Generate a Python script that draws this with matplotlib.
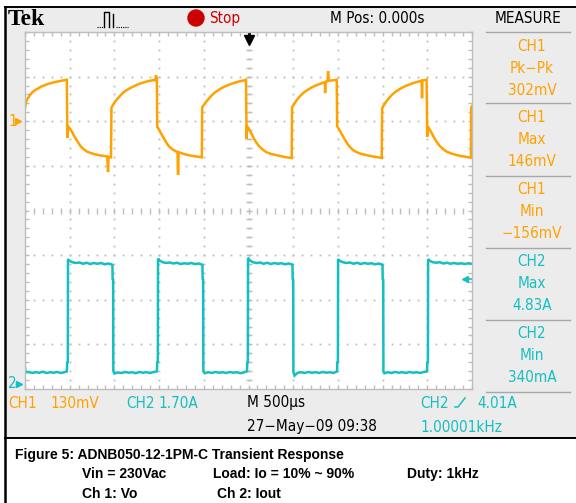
import matplotlib
matplotlib.use("Agg")
import matplotlib.pyplot as plt
from matplotlib import font_manager
from matplotlib.patches import Rectangle, Circle
import numpy as np

# ---------------- data ----------------
ch1_scale_mV = 130.0      # mV/div
ch2_scale_A = 1.70        # A/div
time_scale_us = 500.0     # us/div
ch1_ground_div = 2.0      # CH1 ground marker position (div above centre)
ch2_ground_div = -3.9     # CH2 ground marker position
ch2_trig_A = 4.01

# CH1: output voltage Vo (mV) vs time (us)
ch1_t = [0, 8, 20, 40, 60, 90, 120, 150, 180, 210, 250, 290, 330, 370, 410, 450, 468,
         472, 474, 476, 500, 530, 560, 590, 620, 650, 690, 730, 780, 830, 880, 920, 929, 934, 962,
         967, 985, 1010, 1040, 1070, 1100, 1140, 1180, 1220, 1260, 1300, 1340, 1380, 1420, 1450, 1462, 1466, 1470, 1475,
         1479, 1490, 1520, 1550, 1580, 1610, 1650, 1690, 1706, 1712, 1718, 1750, 1800, 1850, 1900, 1950, 1978,
         1982, 2000, 2030, 2060, 2090, 2130, 2170, 2210, 2250, 2290, 2330, 2370, 2410, 2450, 2472,
         2477, 2479, 2481, 2500, 2530, 2560, 2590, 2620, 2660, 2700, 2750, 2800, 2850, 2900, 2950, 2983,
         2987, 3005, 3035, 3065, 3095, 3130, 3170, 3210, 3250, 3290, 3330, 3355, 3357, 3360, 3385, 3390, 3395, 3430, 3470, 3487,
         3492, 3510, 3540, 3570, 3600, 3630, 3670, 3710, 3760, 3810, 3860, 3900, 3950, 3990,
         3995, 4010, 4040, 4070, 4100, 4140, 4180, 4220, 4260, 4300, 4340, 4380, 4420, 4438, 4441, 4445, 4470, 4492,
         4497, 4499, 4501, 4520, 4550, 4580, 4610, 4640, 4680, 4720, 4770, 4820, 4870, 4920, 4960, 4988,
         4990, 5000]
ch1_mV = [38, 52, 62, 70, 78, 86, 92, 96, 101, 104, 108, 111, 114, 116, 118, 120, 121,
          -10, -48, -14, -20, -33, -48, -60, -72, -80, -88, -92, -96, -99, -101, -103, -148, -104, -105,
          40, 48, 58, 67, 76, 84, 91, 97, 102, 107, 111, 114, 117, 119, 120, 121, 134, 121, 122,
          -17, -20, -35, -48, -62, -73, -82, -88, -90, -156, -90, -93, -97, -100, -102, -104, -105,
          41, 47, 58, 67, 76, 85, 92, 98, 103, 107, 111, 114, 117, 119, 121,
          -12, -52, -14, -20, -35, -50, -63, -73, -83, -90, -95, -98, -101, -104, -106, -107,
          41, 48, 60, 70, 78, 86, 93, 99, 104, 108, 112, 114, 82, 114, 117, 146, 118, 119, 120, 121,
          -15, -22, -36, -50, -63, -74, -84, -90, -95, -98, -101, -103, -105, -107,
          38, 45, 57, 67, 76, 85, 92, 98, 103, 107, 111, 114, 117, 118, 67, 118, 120, 121,
          -14, -45, -14, -21, -35, -50, -62, -72, -82, -89, -94, -98, -101, -103, -105, -106,
          40, 44]

# CH2: output current Iout (A) vs time (us)
ch2_t = [0, 6, 40, 80, 120, 160, 200, 240, 280, 320, 360, 400, 440, 468, 472, 479, 481,
         495, 530, 570, 610, 650, 690, 730, 770, 810, 850, 890, 930, 965, 978, 980, 986, 988,
         1000, 1040, 1080, 1120, 1160, 1200, 1240, 1280, 1320, 1360, 1400, 1440, 1476, 1479, 1486, 1488,
         1500, 1540, 1580, 1620, 1660, 1700, 1740, 1780, 1820, 1860, 1900, 1940, 1972, 1985, 1987, 1993, 1995,
         2010, 2050, 2090, 2130, 2170, 2210, 2250, 2290, 2330, 2370, 2410, 2450, 2483, 2486, 2493, 2495,
         2510, 2550, 2590, 2630, 2670, 2710, 2750, 2790, 2830, 2870, 2910, 2950, 2980, 2992, 2994, 3000, 3002,
         3015, 3050, 3090, 3130, 3170, 3210, 3250, 3290, 3330, 3370, 3410, 3450, 3490, 3493, 3500, 3502,
         3515, 3555, 3595, 3635, 3675, 3715, 3755, 3795, 3835, 3875, 3915, 3955, 3985, 3999, 4001, 4007, 4009,
         4020, 4060, 4100, 4140, 4180, 4220, 4260, 4300, 4340, 4380, 4420, 4460, 4497, 4500, 4507, 4509,
         4525, 4560, 4600, 4640, 4680, 4720, 4760, 4800, 4840, 4880, 4920, 4960, 5000]
ch2_A = [0.65, 0.46, 0.48, 0.44, 0.47, 0.45, 0.49, 0.44, 0.47, 0.45, 0.48, 0.44, 0.47, 0.50, 0.84, 0.86, 4.78,
         4.72, 4.66, 4.63, 4.65, 4.60, 4.64, 4.59, 4.63, 4.60, 4.63, 4.58, 4.61, 4.58, 4.56, 4.02, 4.00, 0.52,
         0.42, 0.46, 0.44, 0.48, 0.45, 0.47, 0.43, 0.48, 0.45, 0.47, 0.44, 0.48, 0.50, 0.84, 0.86, 4.80,
         4.74, 4.66, 4.63, 4.65, 4.61, 4.64, 4.59, 4.62, 4.60, 4.63, 4.59, 4.61, 4.58, 4.56, 4.02, 4.00, 0.50,
         0.43, 0.47, 0.44, 0.48, 0.45, 0.47, 0.44, 0.48, 0.45, 0.47, 0.43, 0.47, 0.50, 0.84, 0.86, 4.83,
         4.74, 4.66, 4.63, 4.65, 4.60, 4.64, 4.59, 4.63, 4.60, 4.62, 4.58, 4.61, 4.58, 4.56, 4.02, 4.00, 0.48,
         0.34, 0.45, 0.47, 0.44, 0.48, 0.45, 0.47, 0.44, 0.48, 0.45, 0.47, 0.44, 0.50, 0.84, 0.86, 4.78,
         4.72, 4.66, 4.63, 4.65, 4.60, 4.64, 4.59, 4.63, 4.60, 4.62, 4.58, 4.61, 4.58, 4.56, 4.02, 4.00, 0.50,
         0.43, 0.47, 0.44, 0.48, 0.45, 0.47, 0.44, 0.48, 0.45, 0.47, 0.44, 0.48, 0.50, 0.84, 0.86, 4.78,
         4.72, 4.66, 4.64, 4.66, 4.61, 4.64, 4.60, 4.63, 4.60, 4.62, 4.59, 4.62, 4.60]

# measurement panel
measure_titles = ["CH1", "CH1", "CH1", "CH2", "CH2"]
measure_names = ["Pk\u2212Pk", "Max", "Min", "Max", "Min"]
measure_values = ["302mV", "146mV", "\u2212156mV", "4.83A", "340mA"]

caption_title = "Figure 5: ADNB050-12-1PM-C Transient Response"
caption_row1 = ["Vin = 230Vac", "Load: Io = 10% ~ 90%", "Duty: 1kHz"]
caption_row2 = ["Ch 1: Vo", "Ch 2: Iout"]

# ---------------- styling ----------------
ORANGE = "#ffa200"
TEAL = "#14bfbf"
GRAY_BG = "#ececec"
GRID = "#bdbdbd"
W, H = 576, 503

# pick a narrow font for the scope read-outs if one is installed
_fonts = font_manager.fontManager.ttflist
_names = {f.name for f in _fonts}
if "Liberation Sans Narrow" in _names:
    SCOPE_KW = dict(family=["Liberation Sans Narrow", "DejaVu Sans"])
    SCOPE_SIZE = 12.5
elif any(f.name == "DejaVu Sans" and f.stretch == "condensed" for f in _fonts):
    SCOPE_KW = dict(family=["DejaVu Sans"], fontstretch="condensed")
    SCOPE_SIZE = 11.0
else:
    SCOPE_KW = dict(family=["Liberation Sans", "DejaVu Sans"])
    SCOPE_SIZE = 10.2

fig = plt.figure(figsize=(W / 100, H / 100), dpi=100)
bg = fig.add_axes([0, 0, 1, 1])
bg.set_xlim(0, W)
bg.set_ylim(H, 0)
bg.axis("off")

bg.add_patch(Rectangle((5, 7), W - 5, 430.5, facecolor=GRAY_BG, edgecolor="none"))
bg.plot([5, W], [7, 7], color="black", lw=1.4)
bg.plot([5, 5], [7, H], color="black", lw=1.8)
bg.plot([5, W], [437.5, 437.5], color="black", lw=1.4)

def stext(x, y, s, color="black", ha="left"):
    bg.text(x, y, s, color=color, fontsize=SCOPE_SIZE, ha=ha, va="center", **SCOPE_KW)

# top bar
bg.text(8, 19, "Tek", fontsize=17, fontweight="bold", family=["Liberation Serif", "DejaVu Serif"],
        va="center", ha="left", color="black")
bg.plot([97, 103], [27, 27], color="black", lw=0.8, ls=(0, (1, 1)))
bg.plot([104, 104, 109, 109], [27, 12, 12, 27], color="black", lw=1.0)
bg.plot([113, 113], [14, 27], color="black", lw=1.0)
bg.plot([116, 128], [27, 27], color="black", lw=0.8, ls=(0, (1, 1)))
bg.add_patch(Circle((196, 18), 8, color="#cc0000"))
stext(209, 18, "Stop", color="#cc0000")
stext(330, 18, "M Pos: 0.000s")
stext(528, 18, "MEASURE", ha="center")

# measurement panel
for yline in [32, 103, 176, 248, 320, 392]:
    bg.plot([486, 570], [yline, yline], color="#a8a8a8", lw=1.0)
box_tops = [32, 103, 176, 248, 320]
for top, t1, t2, t3 in zip(box_tops, measure_titles, measure_names, measure_values):
    col = ORANGE if t1 == "CH1" else TEAL
    stext(532, top + 14, t1, color=col, ha="center")
    stext(532, top + 36, t2, color=col, ha="center")
    stext(532, top + 58, t3, color=col, ha="center")

# channel ground markers
stext(8, 121, "1", color=ORANGE)
bg.plot([18], [121], marker=">", color=ORANGE, ms=4)
bg.plot([15, 19], [121, 121], color=ORANGE, lw=1)
stext(8, 384, "2", color=TEAL)
bg.plot([19], [384], marker=">", color=TEAL, ms=4)
bg.plot([16, 20], [384, 384], color=TEAL, lw=1)

# bottom status
stext(8, 403, "CH1", color=ORANGE)
stext(50, 403, "130mV", color=ORANGE)
stext(126, 403, "CH2", color=TEAL)
stext(158, 403, "1.70A", color=TEAL)
stext(247, 403, "M 500\u00b5s")
stext(247, 427, "27\u2212May\u221209 09:38")
stext(420, 403, "CH2", color=TEAL)
bg.plot([455, 458, 465], [407, 407, 398], color=TEAL, lw=1.1)
stext(477, 403, "4.01A", color=TEAL)
stext(420, 427, "1.00001kHz", color=TEAL)

# caption
cap_kw = dict(fontsize=10, fontweight="bold", family=["Liberation Sans", "DejaVu Sans"],
              va="center", ha="left", color="black")
bg.text(15, 455, caption_title, **cap_kw)
bg.text(82, 474, caption_row1[0], **cap_kw)
bg.text(213, 474, caption_row1[1], **cap_kw)
bg.text(407, 474, caption_row1[2], **cap_kw)
bg.text(82, 494, caption_row2[0], **cap_kw)
bg.text(217, 494, caption_row2[1], **cap_kw)

# ---------------- scope screen ----------------
ax = fig.add_axes([25 / W, 1 - 389 / H, 447 / W, 357 / H])
ax.set_facecolor("white")
ax.set_xlim(0, 10)
ax.set_ylim(-4, 4)
for s in ax.spines.values():
    s.set_color(GRID)
    s.set_linewidth(1.0)
ax.set_xticks(np.arange(0, 10.01, 1))
ax.set_yticks(np.arange(-4, 4.01, 1))
ax.set_xticks(np.arange(0, 10.01, 0.2), minor=True)
ax.set_yticks(np.arange(-4, 4.01, 0.2), minor=True)
ax.tick_params(which="both", direction="in", length=3, width=1, color=GRID,
               top=True, right=True, labelbottom=False, labelleft=False)

fine = np.arange(0, 10.001, 0.2)
finey = np.arange(-4, 4.001, 0.2)
for k in range(1, 10):
    ax.plot(np.full_like(finey, k), finey, ls="none", marker="s", ms=1.3, color=GRID, mew=0)
for k in range(-3, 4):
    if k == 0:
        continue
    ax.plot(fine, np.full_like(fine, k), ls="none", marker="s", ms=1.3, color=GRID, mew=0)
ax.plot(fine, np.zeros_like(fine), ls="none", marker="|", ms=4, color=GRID, mew=1)
ax.plot(np.full_like(finey, 5), finey, ls="none", marker="_", ms=4, color=GRID, mew=1)

t1 = np.array(ch1_t) / time_scale_us
v1 = np.array(ch1_mV) / ch1_scale_mV + ch1_ground_div
t2 = np.array(ch2_t) / time_scale_us
v2 = np.array(ch2_A) / ch2_scale_A + ch2_ground_div
ax.plot(t2, v2, color=TEAL, lw=1.8, solid_joinstyle="miter")
ax.plot(t1, v1, color=ORANGE, lw=1.8, solid_joinstyle="miter")

# trigger position and level markers
ax.plot([5, 5], [3.97, 3.86], color="black", lw=2, clip_on=False)
ax.plot([5], [3.82], marker="v", color="black", ms=7, clip_on=False)
trig_div = ch2_trig_A / ch2_scale_A + ch2_ground_div
ax.plot([9.85, 10.0], [trig_div, trig_div], color=TEAL, lw=1.2)
ax.plot([9.84], [trig_div], marker="<", color=TEAL, ms=4)

fig.savefig("out.png", dpi=100)
